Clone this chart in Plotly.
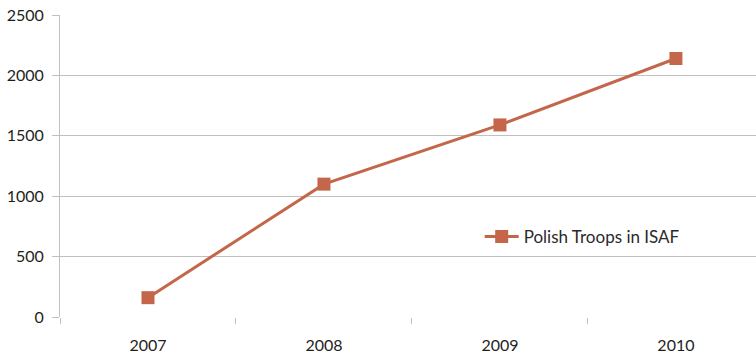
import plotly.graph_objects as go

years = ["2007", "2008", "2009", "2010"]
troops = [160, 1100, 1590, 2140]
y_ticks = [0, 500, 1000, 1500, 2000, 2500]
series_name = "Polish Troops in ISAF"

line_color = "#C4664A"
grid_color = "#C0C0C0"
font_family = "Lato, 'Open Sans', 'Liberation Sans', sans-serif"

fig = go.Figure()
fig.add_trace(go.Scatter(
    x=years,
    y=troops,
    mode="lines+markers",
    name=series_name,
    line=dict(color=line_color, width=3),
    marker=dict(symbol="square", size=13, color=line_color),
))

fig.update_layout(
    width=756,
    height=355,
    margin=dict(l=60, r=0, t=15, b=38),
    paper_bgcolor="white",
    plot_bgcolor="white",
    font=dict(family=font_family, size=16, color="#1e1e1e"),
    showlegend=True,
    legend=dict(
        x=0.603, y=0.265, xanchor="left", yanchor="middle",
        bgcolor="rgba(0,0,0,0)",
        font=dict(size=17, color="#2a2a2a"),
        itemwidth=34,
    ),
    xaxis=dict(
        type="category",
        range=[-0.5, 3.455],
        tickson="boundaries",
        ticks="outside",
        ticklen=6,
        tickcolor=grid_color,
        ticklabelstandoff=17,
        showgrid=False,
        showline=False,
        zeroline=False,
    ),
    yaxis=dict(
        range=[0, 2500],
        tickvals=y_ticks,
        ticks="outside",
        ticklen=7,
        tickcolor=grid_color,
        ticklabelstandoff=5,
        showgrid=True,
        gridcolor=grid_color,
        gridwidth=1,
        showline=True,
        linecolor=grid_color,
        linewidth=1,
        zeroline=False,
    ),
)

fig.write_html("out.html")
